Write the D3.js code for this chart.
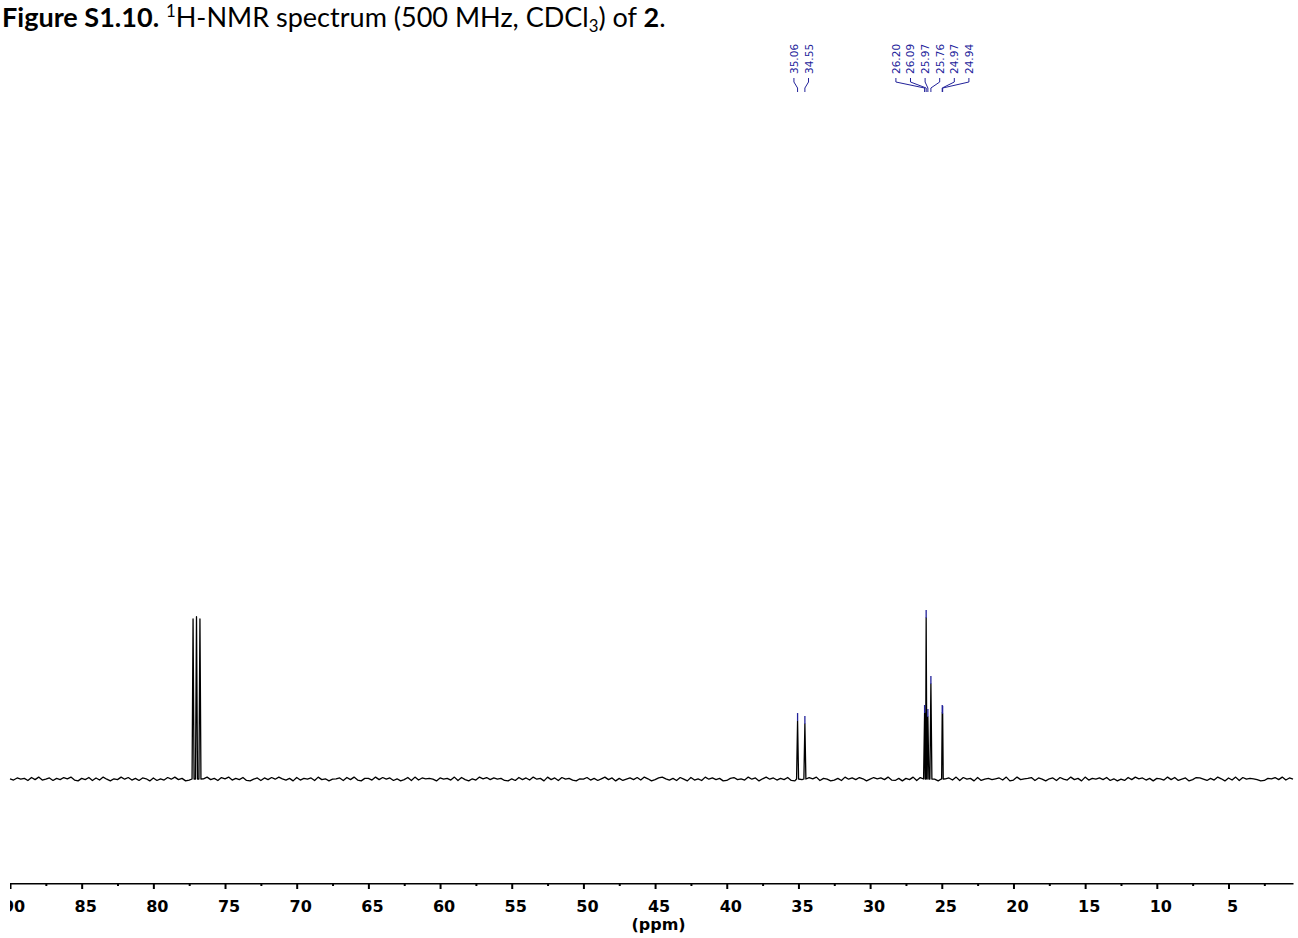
<!DOCTYPE html>
<html>
<head>
<meta charset="utf-8">
<script src="https://cdn.jsdelivr.net/npm/d3@7"></script>
<style>
  html, body { margin: 0; padding: 0; background: #fff; }
  svg { display: block; }
</style>
</head>
<body>
<div id="chart"></div>
<script>
// ---------- data ----------
const ppmDomain = [90, 0.5];
const majorTicks = [90, 85, 80, 75, 70, 65, 60, 55, 50, 45, 40, 35, 30, 25, 20, 15, 10, 5];
const minorTicks = [87.5, 82.5, 77.5, 72.5, 67.5, 62.5, 57.5, 52.5, 47.5, 42.5, 37.5, 32.5, 27.5, 22.5, 17.5, 12.5, 7.5, 2.5];

// peaks (ppm, relative intensity; tallest = 100)
const peakPpm    = [77.23, 76.99, 76.75, 35.06, 34.55, 26.20, 26.09, 25.97, 25.76, 24.97, 24.94];
const peakHeight = [99.4, 100.8, 99.4, 36.0, 34.2, 41.0, 100.0, 38.5, 59.0, 41.0, 40.5];

// labelled peaks, by group
const labelGroup1 = ["35.06", "34.55"];
const labelGroup2 = ["26.20", "26.09", "25.97", "25.76", "24.97", "24.94"];

// baseline noise level digits (0-9, 4.5 = flat), one every 0.25 ppm from 90 downward
const noiseStart = 90, noiseStep = 0.25;
const baselineNoiseDigits =
  "5274618392" + "4716385920" + "6381729405" + "3948261750" + "7152849360" +
  "2847593618" + "5926381047" + "1738495260" + "8264719350" + "4571839206" +
  "6293847150" + "3819275640" + "7462918305" + "2958374610" + "5183729460" +
  "9371846205" + "4826159370" + "6147382950" + "3795261840" + "8251947360" +
  "1683529470" + "5947263810" + "7328591640" + "2619473850" + "4857392160" +
  "6391827540" + "3572918460" + "8146357290" + "2935681740" + "5718429360" +
  "9264738150" + "4183957260" + "6529381470" + "3874162950" + "7291846530" +
  "1658392740";
const baselineNoise = baselineNoiseDigits.split("").map(c => (+c - 4.5) * 0.26);

// ---------- layout ----------
const W = 1298, H = 938;
const svg = d3.select("#chart").append("svg").attr("width", W).attr("height", H);

const x = d3.scaleLinear().domain(ppmDomain).range([10, 1293]);
const y = d3.scaleLinear().domain([0, 100]).range([779, 618]);

svg.append("defs").append("clipPath").attr("id", "plotclip")
  .append("rect").attr("x", 10).attr("y", 0).attr("width", 1290).attr("height", H);

// ---------- title ----------
function buildTitle(fs) {
  svg.select(".title").remove();
  const small = fs * 0.62;
  const title = svg.append("text").attr("class", "title")
    .attr("x", 2).attr("y", 27)
    .attr("font-family", "Lato, 'Open Sans', sans-serif")
    .attr("font-size", fs)
    .attr("fill", "#000");
  title.append("tspan").attr("font-weight", "bold").text("Figure S1.10.");
  title.append("tspan").text(" ");
  title.append("tspan").attr("font-size", small).attr("dy", -fs * 0.38).text("1");
  title.append("tspan").attr("dy", fs * 0.38).text("H-NMR spectrum (500 MHz, CDCl");
  title.append("tspan").attr("font-size", small).attr("dy", fs * 0.2).text("3");
  title.append("tspan").attr("dy", -fs * 0.2).text(") of ");
  title.append("tspan").attr("font-weight", "bold").text("2");
  title.append("tspan").text(".");
  return title;
}
let t = buildTitle(22);
const w0 = t.node().getBBox().width;
buildTitle(22 * 664 / w0);

// ---------- spectrum ----------
const halfW = 0.07;
let pts = [];
baselineNoise.forEach((v, i) => {
  const p = noiseStart - i * noiseStep;
  if (p < ppmDomain[1]) return;
  const inPeak = peakPpm.some(pp => Math.abs(pp - p) < halfW + 0.02);
  if (!inPeak) pts.push([p, v]);
});
peakPpm.forEach((p, i) => {
  pts.push([p + halfW, 0]);
  pts.push([p, peakHeight[i]]);
  pts.push([p - halfW, 0]);
});
pts.sort((a, b) => b[0] - a[0]);

const line = d3.line().x(d => x(d[0])).y(d => y(d[1]));
svg.append("path")
  .attr("d", line(pts))
  .attr("fill", "none")
  .attr("stroke", "#000")
  .attr("stroke-width", 1.3)
  .attr("stroke-linejoin", "round");

// ---------- peak labels ----------
const labelColor = "#22229a";
const labelSpacing = 14.6;
function drawGroup(labels) {
  const vals = labels.map(Number);
  const px = vals.map(v => x(v));
  const mean = d3.mean(px);
  const n = labels.length;
  labels.forEach((lab, i) => {
    const lx = mean + (i - (n - 1) / 2) * labelSpacing;
    const pk = px[i];
    svg.append("text")
      .attr("transform", `translate(${lx},74) rotate(-90)`)
      .attr("text-anchor", "start")
      .attr("dominant-baseline", "central")
      .attr("font-family", "DejaVu Sans, Verdana, sans-serif")
      .attr("font-size", 10.5)
      .attr("fill", labelColor)
      .text(lab);
    svg.append("path")
      .attr("d", `M${lx},78 L${lx},82 L${pk},88 L${pk},92`)
      .attr("fill", "none")
      .attr("stroke", labelColor)
      .attr("stroke-width", 1);
    const h = peakHeight[peakPpm.indexOf(vals[i])];
    svg.append("line")
      .attr("x1", pk).attr("x2", pk)
      .attr("y1", y(h) - 8).attr("y2", y(h))
      .attr("stroke", labelColor).attr("stroke-width", 1.3);
  });
}
drawGroup(labelGroup1);
drawGroup(labelGroup2);

// ---------- axis ----------
const axisY = 883;
const axisG = svg.append("g").attr("transform", `translate(0,${axisY})`).attr("clip-path", "url(#plotclip)");
axisG.call(d3.axisBottom(x).tickValues(majorTicks).tickSize(6).tickSizeOuter(0).tickFormat(d3.format("d")));
axisG.select(".domain").attr("stroke", "#000").attr("stroke-width", 2);
axisG.selectAll(".tick line").attr("stroke", "#000").attr("stroke-width", 2);
axisG.selectAll(".tick text")
  .attr("y", 17.6).attr("dx", 3.5)
  .attr("font-family", "DejaVu Sans, Verdana, sans-serif")
  .attr("font-size", 16).attr("font-weight", "bold").attr("fill", "#000");

const minorG = svg.append("g").attr("transform", `translate(0,${axisY})`);
minorG.call(d3.axisBottom(x).tickValues(minorTicks).tickSize(3).tickSizeOuter(0).tickFormat(""));
minorG.select(".domain").remove();
minorG.selectAll(".tick line").attr("stroke", "#000").attr("stroke-width", 2);

svg.append("text")
  .attr("x", x(45) + 3.5).attr("y", 930)
  .attr("text-anchor", "middle")
  .attr("font-family", "DejaVu Sans, Verdana, sans-serif")
  .attr("font-size", 16).attr("font-weight", "bold")
  .text("(ppm)");
</script>
</body>
</html>
